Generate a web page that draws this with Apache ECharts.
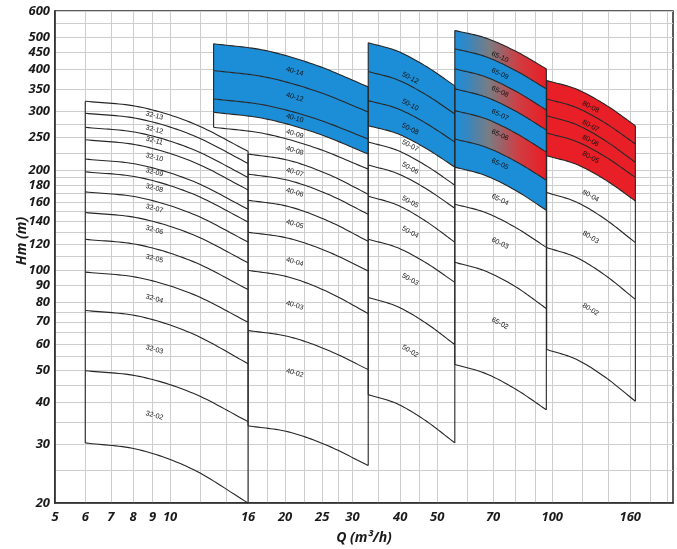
<!DOCTYPE html>
<html><head><meta charset="utf-8">
<script src="https://cdn.jsdelivr.net/npm/echarts@6/dist/echarts.min.js"></script>
<style>html,body{margin:0;padding:0;background:#fff}#c{width:677px;height:549px}</style>
</head><body><div id="c"></div>
<script>
// ---- axis ticks ----
const qTicks = [5, 6, 7, 8, 9, 10, 16, 20, 25, 30, 40, 50, 70, 100, 160];
const qGrid = [5, 6, 7, 8, 9, 10, 12, 14, 16, 18, 20, 22.5, 25, 27.5, 30, 35, 40, 45, 50, 60, 70, 80, 90, 100, 120, 140, 160, 180, 200];
const hTicks = [20, 30, 40, 50, 60, 70, 80, 90, 100, 120, 140, 160, 180, 200, 250, 300, 350, 400, 450, 500, 550, 600];
const hGrid = [20, 25, 30, 35, 40, 45, 50, 55, 60, 65, 70, 75, 80, 90, 100, 110, 120, 130, 140, 150, 160, 170, 180, 190, 200, 225, 250, 275, 300, 350, 400, 450, 500, 550, 600];

// ---- pump family 32 ----
const q32 = [6, 8.3, 11.5, 16];
const h32 = [
  [321.6, 309.3, 275.7, 227.4],
  [295.9, 284.6, 253.7, 209.2],
  [268.5, 258.3, 230.2, 189.9],
  [246.4, 237.0, 211.3, 174.2],
  [215.6, 207.3, 184.8, 152.4],
  [197.4, 189.9, 169.2, 139.6],
  [171.8, 165.3, 147.3, 121.5],
  [149.0, 143.3, 127.7, 105.3],
  [123.8, 119.1, 106.1, 87.5],
  [98.7, 94.9, 84.6, 69.8],
  [75.7, 72.7, 64.3, 52.4],
  [49.9, 48.0, 42.7, 35.1],
  [30.3, 28.9, 25.2, 20.0]
];
const labels32 = ['32-13', '32-12', '32-11', '32-10', '32-09', '32-08', '32-07', '32-06', '32-05', '32-04', '32-03', '32-02'];

// ---- pump family 40 ----
const q40Upper = [13, 17.7, 24.2, 33];
const q40Lower = [16, 20.4, 25.9, 33];
const h40 = [
  [478.3, 457.0, 411.8, 355.1],
  [397.5, 380.3, 344.4, 298.6],
  [326.7, 313.0, 284.2, 247.6],
  [297.9, 285.0, 257.8, 223.2],
  [268.5, 256.9, 232.3, 201.1],
  [223.2, 213.8, 194.1, 169.1],
  [194.3, 186.1, 169.0, 147.2],
  [162.2, 155.3, 140.6, 122.1],
  [130.0, 124.7, 113.6, 99.4],
  [99.9, 95.4, 86.0, 74.1],
  [65.9, 63.2, 57.5, 50.3],
  [34.1, 32.7, 29.7, 25.9]
];
const labels40 = ['40-14', '40-12', '40-10', '40-09', '40-08', '40-07', '40-06', '40-05', '40-04', '40-03', '40-02'];

// ---- pump family 50 ----
const q50 = [33, 39.3, 46.7, 55.6];
const h50 = [
  [481.7, 454.8, 409.6, 357.5],
  [394.8, 373.3, 336.6, 294.5],
  [322.9, 305.7, 276.3, 242.5],
  [271.5, 257.1, 232.3, 203.9],
  [242.5, 229.0, 206.2, 180.0],
  [206.8, 195.2, 175.8, 153.5],
  [166.8, 156.9, 140.3, 121.3],
  [123.8, 116.9, 105.3, 91.9],
  [82.8, 77.8, 69.4, 59.8],
  [42.3, 39.7, 35.3, 30.3]
];
const labels50 = ['50-12', '50-10', '50-08', '50-07', '50-06', '50-05', '50-04', '50-03', '50-02'];

// ---- pump family 65 ----
const q65 = [55.6, 66.8, 80.3, 96.5];
const h65 = [
  [524.5, 498.3, 454.1, 402.2],
  [462.1, 438.0, 397.2, 350.2],
  [402.2, 380.8, 344.6, 302.7],
  [350.2, 331.5, 300.0, 263.5],
  [301.3, 285.2, 257.8, 226.3],
  [247.6, 234.4, 212.1, 186.4],
  [203.9, 192.5, 173.4, 151.4],
  [157.8, 149.0, 134.2, 117.1],
  [105.6, 99.4, 89.1, 76.7],
  [52.1, 49.0, 43.9, 38.1]
];
const labels65 = ['65-10', '65-09', '65-08', '65-07', '65-06', '65-05', '65-04', '60-03', '65-02'];

// ---- pump family 80 ----
const q80 = [96.7, 115.6, 138, 165];
const h80 = [
  [370.9, 349.7, 313.4, 271.5],
  [326.7, 307.8, 276.1, 239.2],
  [291.0, 273.6, 244.4, 210.7],
  [258.1, 243.5, 218.7, 189.9],
  [220.5, 207.9, 186.4, 161.4],
  [171.1, 160.2, 141.9, 121.0],
  [116.9, 109.2, 96.3, 81.7],
  [57.8, 54.0, 47.6, 40.4]
];
const labels80 = ['80-08', '80-07', '80-06', '80-05', '80-04', '80-03', '80-02'];

// ---- label anchor placement (Q, head in axis units) ----
const labelQ = { g32: 9.1, g40: 21.2, g50: 42.5, g65: 73, g80: 126 };
const labelAt32 = [291.0, 264.1, 244.7, 218.1, 196.6, 176.3, 153.2, 132.0, 108.3, 82.1, 57.8, 36.6];
const labelAt40 = [394.8, 330.6, 285.8, 256.3, 228.3, 196.6, 171.1, 137.4, 105.8, 78.4, 49.1];
const labelAt50 = [377.9, 313.4, 265.4, 236.4, 202.5, 160.3, 130.0, 93.8, 57.1];
const labelAt65 = [436.2, 388.6, 343.7, 292.4, 254.6, 208.2, 162.6, 120.4, 69.2];
const labelAt80 = [309.1, 271.0, 244.7, 218.1, 167.1, 125.5, 76.2];

// ---- styling ----
const BLUE = '#1c8ed8';
const RED = '#e81f27';
const gradFill = new echarts.graphic.LinearGradient(0, 0, 1, 0, [
  { offset: 0, color: '#1c8ed8' },
  { offset: 0.12, color: '#3387c4' },
  { offset: 0.38, color: '#7b7b80' },
  { offset: 0.7, color: '#cf3d42' },
  { offset: 1, color: '#ea1d25' }
]);

const groups = [
  { h: h32, qOf: () => q32, labels: labels32, lq: labelQ.g32, lh: labelAt32, fills: {} },
  { h: h40, qOf: k => (k < 5 ? q40Upper : q40Lower), labels: labels40, lq: labelQ.g40, lh: labelAt40, fills: { 0: BLUE, 1: BLUE, 2: BLUE } },
  { h: h50, qOf: () => q50, labels: labels50, lq: labelQ.g50, lh: labelAt50, fills: { 0: BLUE, 1: BLUE, 2: BLUE } },
  { h: h65, qOf: () => q65, labels: labels65, lq: labelQ.g65, lh: labelAt65, fills: { 0: gradFill, 1: BLUE, 2: gradFill, 3: BLUE, 4: gradFill, 5: BLUE } },
  { h: h80, qOf: () => q80, labels: labels80, lq: labelQ.g80, lh: labelAt80, fills: { 0: RED, 1: RED, 2: RED, 3: RED } }
];

// Catmull-Rom smoothing of the pixel points of a curve
function smoothPts(pts) {
  const n = pts.length;
  const P = i => {
    if (i < 0) return [2 * pts[0][0] - pts[1][0], 2 * pts[0][1] - pts[1][1]];
    if (i >= n) return [2 * pts[n - 1][0] - pts[n - 2][0], 2 * pts[n - 1][1] - pts[n - 2][1]];
    return pts[i];
  };
  const out = [];
  for (let i = 0; i < n - 1; i++) {
    const p0 = P(i - 1), p1 = P(i), p2 = P(i + 1), p3 = P(i + 2);
    for (let s = 0; s < 16; s++) {
      const t = s / 16, t2 = t * t, t3 = t2 * t;
      const f = (a, b, c, d) => 0.5 * (2 * b + (-a + c) * t + (2 * a - 5 * b + 4 * c - d) * t2 + (-a + 3 * b - 3 * c + d) * t3);
      out.push([f(p0[0], p1[0], p2[0], p3[0]), f(p0[1], p1[1], p2[1], p3[1])]);
    }
  }
  out.push(pts[n - 1]);
  return out;
}
function slopeAt(pts, x) {
  for (let i = 0; i < pts.length - 1; i++) {
    if (x >= pts[i][0] && x <= pts[i + 1][0]) {
      return (pts[i + 1][1] - pts[i][1]) / (pts[i + 1][0] - pts[i][0] || 1);
    }
  }
  return 0;
}
function seg(a, b) {
  return { type: 'line', z2: 3, shape: { x1: a[0], y1: a[1], x2: b[0], y2: b[1] }, style: { stroke: '#262626', lineWidth: 1.1 } };
}

function groupSeries(g) {
  return {
    type: 'custom',
    coordinateSystem: 'cartesian2d',
    silent: true,
    clip: false,
    data: g.h.map((row, k) => [g.qOf(k)[0], row[0]]),
    encode: { x: 0, y: 1 },
    renderItem: function (params, api) {
      const i = params.dataIndex;
      const n = g.h.length;
      const px = k => smoothPts(g.h[k].map((h, j) => api.coord([g.qOf(k)[j], h])));
      const cur = px(i);
      const children = [];
      if (i < n - 1) {
        const nxt = px(i + 1);
        const fill = g.fills[i];
        if (fill) {
          children.push({ type: 'polygon', z2: 1, shape: { points: cur.concat(nxt.slice().reverse()) }, style: { fill: fill, stroke: null } });
        }
        const qa = g.qOf(i), qb = g.qOf(i + 1);
        if (qa[0] === qb[0]) children.push(seg(cur[0], nxt[0]));
        if (qa[qa.length - 1] === qb[qb.length - 1]) children.push(seg(cur[cur.length - 1], nxt[nxt.length - 1]));
        if (g.labels[i]) {
          const p = api.coord([g.lq, g.lh[i]]);
          const ang = Math.atan((slopeAt(cur, p[0]) + slopeAt(nxt, p[0])) / 2);
          children.push({
            type: 'text', z2: 5, x: p[0], y: p[1], rotation: -ang,
            style: { text: g.labels[i], font: '7px "Liberation Sans"', fill: '#111', align: 'center', verticalAlign: 'middle' }
          });
        }
      }
      children.push({ type: 'polyline', z2: 3, shape: { points: cur }, style: { stroke: '#262626', lineWidth: 1.1, fill: null } });
      return { type: 'group', children: children };
    }
  };
}

const labelFont = { color: '#1a1a1a', fontFamily: 'Open Sans', fontStyle: 'italic', fontWeight: 'bold', fontSize: 13 };
// keep end ticks a hair inside the log extent so rounding never drops them
const inside = (arr, lo, hi) => arr.map(v => (v === hi ? v * 0.99999 : v === lo ? v * 1.00001 : v));

const chart = echarts.init(document.getElementById('c'), null, { renderer: 'canvas' });
chart.setOption({
  animation: false,
  backgroundColor: '#fff',
  grid: { left: 55, right: 4, top: 11, bottom: 46, show: true, borderColor: '#262626', borderWidth: 1.5 },
  xAxis: {
    type: 'log', logBase: 10, min: 5, max: 207,
    axisLine: { show: true, onZero: false, lineStyle: { color: '#262626', width: 1.5 } },
    axisTick: { show: false, customValues: inside(qGrid, 5, 207) },
    axisLabel: Object.assign({ customValues: inside(qTicks, 5, 207), margin: 8, showMinLabel: true, showMaxLabel: true, hideOverlap: false, formatter: v => String(Math.round(v)) }, labelFont),
    splitLine: { show: true, lineStyle: { color: '#cdcdcd', width: 1 } }
  },
  yAxis: {
    type: 'log', logBase: 10, min: 20, max: 600,
    axisLine: { show: true, onZero: false, lineStyle: { color: '#262626', width: 1.5 } },
    axisTick: { show: false, customValues: inside(hGrid, 20, 600) },
    axisLabel: Object.assign({ customValues: inside(hTicks, 20, 600), margin: 5, showMinLabel: true, showMaxLabel: true, hideOverlap: false, formatter: v => String(Math.round(v)) }, labelFont),
    splitLine: { show: true, lineStyle: { color: '#cdcdcd', width: 1 } }
  },
  graphic: [
    { type: 'text', x: 22, y: 241, rotation: Math.PI / 2, style: { text: 'Hm (m)', font: 'italic bold 14px "Open Sans"', fill: '#1a1a1a', align: 'center', verticalAlign: 'middle' } },
    { type: 'text', x: 364, y: 538, style: { text: 'Q (m³/h)', font: 'italic bold 14px "Open Sans"', fill: '#1a1a1a', align: 'center', verticalAlign: 'middle' } }
  ],
  series: groups.map(groupSeries)
});
</script></body></html>
